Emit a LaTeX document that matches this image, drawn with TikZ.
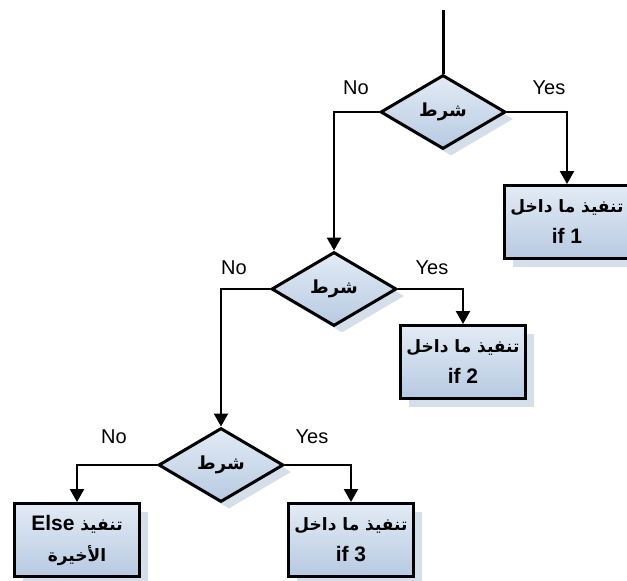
\documentclass[tikz,border=0pt]{standalone}
\usepackage{fontspec}
\setmainfont{Liberation Sans}
\newfontfamily\arabicfont[Script=Arabic]{DejaVu Sans}
\TeXXeTstate=1
\usetikzlibrary{shapes.geometric,shadows,arrows.meta}
\definecolor{boxtop}{HTML}{E3EBF5}
\definecolor{boxbot}{HTML}{B7CAE2}
\definecolor{shadowblue}{HTML}{D5DEEB}
\newcommand{\artext}[1]{{\arabicfont\bfseries\beginR #1\endR}}
\newcommand{\latbold}[1]{{\rmfamily\bfseries\fontsize{21}{24}\selectfont #1}}

\begin{document}
\begin{tikzpicture}[x=1pt,y=-1pt,
  cond/.style={diamond, draw, line width=3pt, minimum width=125pt, minimum height=74pt,
    inner sep=0pt, top color=boxtop, bottom color=boxbot,
    drop shadow={shadow xshift=8pt, shadow yshift=-7pt, fill=shadowblue, opacity=1},
    font=\fontsize{18}{20}\selectfont},
  action/.style={rectangle, draw, line width=3pt, minimum width=125pt, minimum height=73pt,
    inner sep=0pt, align=center, top color=boxtop, bottom color=boxbot,
    drop shadow={shadow xshift=8pt, shadow yshift=-8pt, fill=shadowblue, opacity=1},
    font=\fontsize{17}{31}\selectfont},
  flow/.style={line width=2.4pt, -{Triangle[width=14pt,length=13pt]}},
  lbl/.style={font=\fontsize{20}{24}\selectfont}]
\useasboundingbox (0,0) rectangle (627,581);

% conditions
\coordinate (start) at (443,10);
\node[cond] (d1) at (443,112) {\artext{شرط}};
\node[cond] (d2) at (334,289) {\artext{شرط}};
\node[cond] (d3) at (221,465) {\artext{شرط}};

% actions
\node[action] (b1) at (567,222) {\artext{تنفيذ ما داخل}\\\latbold{if 1}};
\node[action] (b2) at (463,362) {\artext{تنفيذ ما داخل}\\\latbold{if 2}};
\node[action] (b3) at (351,540) {\artext{تنفيذ ما داخل}\\\latbold{if 3}};
\node[action] (be) at (77,540) {\artext{تنفيذ \beginL\latbold{Else}\endL}\\\artext{الأخيرة}};

% labels
\node[lbl] (no1) at (356,88) {No};
\node[lbl] (yes1) at (549,88) {Yes};
\node[lbl] (no2) at (234,268) {No};
\node[lbl] (yes2) at (432,268) {Yes};
\node[lbl] (no3) at (114,437) {No};
\node[lbl] (yes3) at (312,437) {Yes};

% connectors
\draw[line width=3pt] (start) -- (d1.north);
\draw[flow] (d1.east) -| (b1.north);
\draw[flow] (d1.west) -| (d2.north);
\draw[flow] (d2.east) -| (b2.north);
\draw[flow] (d2.west) -| (d3.north);
\draw[flow] (d3.east) -| (b3.north);
\draw[flow] (d3.west) -| (be.north);
\end{tikzpicture}
\end{document}
